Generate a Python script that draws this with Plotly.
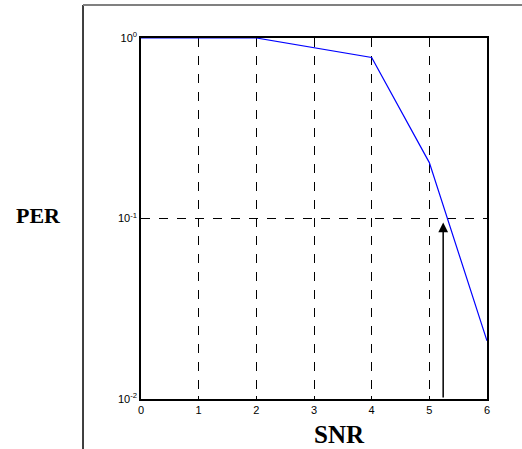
import plotly.graph_objects as go
import math

snr = [0, 1, 2, 4, 5, 6]
per = [1.0, 1.0, 1.0, 0.78, 0.204, 0.021]
x_ticks = [0, 1, 2, 3, 4, 5, 6]
y_tickvals = [1, 0.1, 0.01]
y_ticktext = ["10<sup>0</sup>", "10<sup>-1</sup>", "10<sup>-2</sup>"]
arrow_x = 5.24
arrow_tip = 0.095
arrow_base = 0.01

fig = go.Figure()
fig.add_trace(go.Scatter(x=snr, y=per, mode="lines",
                         line=dict(color="#0000ff", width=1.2),
                         showlegend=False, hoverinfo="skip"))

fig.add_annotation(x=arrow_x, y=math.log10(arrow_tip), ax=arrow_x, ay=math.log10(arrow_base),
                   xref="x", yref="y", axref="x", ayref="y",
                   showarrow=True, arrowhead=2, arrowsize=1.3, arrowwidth=1.5,
                   arrowcolor="black", text="")

fig.add_annotation(text="<b>PER</b>", xref="paper", yref="paper", x=-0.295, y=0.508,
                   xanchor="center", yanchor="middle", showarrow=False,
                   font=dict(family="Liberation Serif", size=22, color="black"))
fig.add_annotation(text="<b>SNR</b>", xref="paper", yref="paper", x=0.575, y=-0.098,
                   xanchor="center", yanchor="middle", showarrow=False,
                   font=dict(family="Liberation Serif", size=25, color="black"))

# outer frame lines
fig.add_shape(type="line", xref="paper", yref="paper", x0=-0.1676, x1=-0.1676, y0=1.0914, y1=-0.14,
              line=dict(color="black", width=1.5))
fig.add_shape(type="line", xref="paper", yref="paper", x0=-0.1676, x1=1.11, y0=1.0914, y1=1.0914,
              line=dict(color="#808080", width=2))

fig.update_xaxes(range=[0, 6], tickvals=x_ticks, ticks="inside", ticklen=3, tickcolor="black",
                 showline=True, linecolor="black", linewidth=1.5, mirror=True,
                 showgrid=True, gridcolor="black", griddash="dash", gridwidth=1,
                 zeroline=False, tickfont=dict(family="Liberation Sans", size=11, color="black"))
fig.update_yaxes(type="log", range=[-2, 0], tickvals=y_tickvals, ticktext=y_ticktext,
                 ticks="inside", ticklen=3, tickcolor="black",
                 showline=True, linecolor="black", linewidth=1.5, mirror=True,
                 showgrid=True, gridcolor="black", griddash="dash", gridwidth=1,
                 zeroline=False, tickfont=dict(family="Liberation Sans", size=11, color="black"))

fig.update_layout(width=522, height=449, margin=dict(l=141, r=35, t=38, b=50),
                  paper_bgcolor="white", plot_bgcolor="white")
fig.write_html("out.html")
